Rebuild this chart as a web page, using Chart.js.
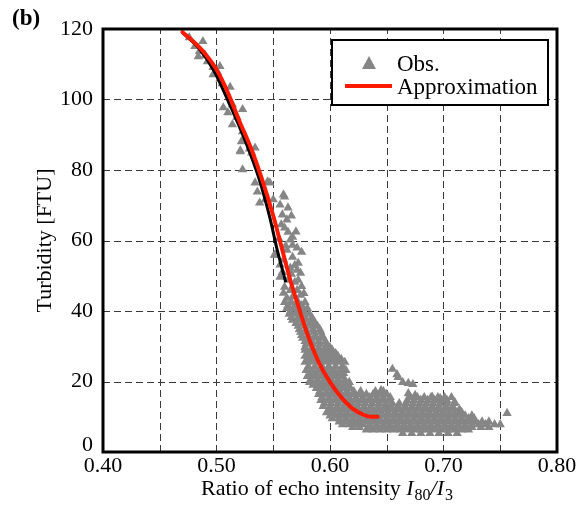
<!DOCTYPE html>
<html>
<head>
<meta charset="utf-8">
<title>Turbidity vs echo intensity ratio</title>
<script src="https://cdn.jsdelivr.net/npm/chart.js@4.4.0/dist/chart.umd.min.js"></script>
<style>
    html, body { margin: 0; padding: 0; background: #fff; }
    #wrap { position: relative; width: 587px; height: 509px; }
</style>
</head>
<body>
<div id="wrap"><canvas id="turbidityChart"></canvas></div>
<script>
const obsPoints = [
    // upper branch
    [0.488,116.5],[0.481,115.1],[0.485,113.7],[0.484,112.2],[0.492,110.8],[0.497,109.1],[0.503,109.4],
    [0.501,107.7],[0.497,107.1],[0.503,105.8],[0.512,103.5],[0.514,98.6],[0.506,97.7],[0.523,97.2],
    [0.510,96.3],[0.514,92.9],[0.523,90.9],[0.525,88.6],[0.522,88.1],[0.534,86.3],[0.521,85.5],[0.531,84.9],
    [0.476,117.6],[0.490,112.5],[0.505,104.5],[0.518,95.0],[0.529,86.0],
    // middle branch
    [0.521,85.2],[0.523,80.1],[0.534,76.4],[0.536,73.8],[0.545,76.7],[0.547,76.4],[0.538,70.7],[0.543,71.6],
    [0.550,71.6],[0.559,73.0],[0.560,72.4],[0.556,70.1],[0.563,69.3],[0.558,67.3],[0.562,65.9],[0.560,63.6],
    [0.563,62.4],[0.567,61.0],[0.565,60.2],[0.567,58.7],[0.571,57.9],[0.552,55.9],[0.562,57.3],[0.559,54.5],
    [0.567,55.3],[0.572,53.6],[0.556,53.1],[0.565,52.2],[0.571,51.6],[0.574,50.8],[0.556,49.6],[0.563,48.8],
    [0.569,48.2],[0.572,48.8],[0.560,46.8],[0.565,45.9],[0.571,45.9],[0.559,45.1],[0.567,44.0],[0.574,44.5],
    [0.562,43.7],[0.575,56.7],[0.551,55.9],
    [0.566,50.5],[0.569,53.0],[0.558,51.0],[0.561,58.5],[0.570,62.5],[0.575,47.0],[0.577,45.0],[0.555,60.5],
    [0.557,64.5],[0.566,67.0],
    // lower band
    [0.560,42.5],[0.566,42.5],[0.572,42.5],[0.578,42.5],
    [0.563,41.6],[0.569,41.6],[0.575,41.6],
    [0.562,40.8],[0.568,40.8],[0.574,40.8],[0.580,40.8],
    [0.565,39.9],[0.571,39.9],[0.577,39.9],
    [0.564,39.1],[0.570,39.1],[0.576,39.1],[0.582,39.1],
    [0.566,38.2],[0.572,38.2],[0.578,38.2],[0.584,38.2],
    [0.567,37.4],[0.573,37.4],[0.579,37.4],[0.585,37.4],
    [0.570,36.5],[0.576,36.5],[0.582,36.5],[0.587,36.5],
    [0.572,35.7],[0.578,35.7],[0.584,35.7],[0.589,35.7],
    [0.573,34.8],[0.579,34.8],[0.585,34.8],[0.591,34.8],
    [0.574,34.0],[0.580,34.0],[0.586,34.0],[0.592,34.0],
    [0.575,33.1],[0.581,33.1],[0.587,33.1],[0.593,33.1],
    [0.576,32.3],[0.582,32.3],[0.588,32.3],[0.594,32.3],
    [0.578,31.4],[0.584,31.4],[0.590,31.4],[0.596,31.4],
    [0.579,30.6],[0.585,30.6],[0.591,30.6],[0.597,30.6],
    [0.578,29.7],[0.584,29.7],[0.590,29.7],[0.596,29.7],[0.600,29.7],
    [0.578,28.9],[0.584,28.9],[0.590,28.9],[0.596,28.9],[0.602,28.9],
    [0.581,28.0],[0.587,28.0],[0.593,28.0],[0.599,28.0],[0.605,28.0],
    [0.578,27.2],[0.584,27.2],[0.590,27.2],[0.596,27.2],[0.602,27.2],[0.607,27.2],
    [0.581,26.3],[0.587,26.3],[0.593,26.3],[0.599,26.3],[0.605,26.3],[0.610,26.3],
    [0.578,25.5],[0.584,25.5],[0.590,25.5],[0.596,25.5],[0.602,25.5],[0.608,25.5],[0.613,25.5],
    [0.581,24.3],[0.587,24.3],[0.593,24.3],[0.599,24.3],[0.605,24.3],[0.611,24.3],
    [0.579,23.2],[0.585,23.2],[0.591,23.2],[0.597,23.2],[0.603,23.2],[0.609,23.2],[0.614,23.2],
    [0.582,22.3],[0.588,22.3],[0.594,22.3],[0.600,22.3],[0.606,22.3],[0.612,22.3],
    [0.580,21.5],[0.586,21.5],[0.592,21.5],[0.598,21.5],[0.604,21.5],[0.610,21.5],
    [0.583,20.6],[0.589,20.6],[0.595,20.6],[0.601,20.6],[0.607,20.6],[0.613,20.6],
    [0.582,19.8],[0.588,19.8],[0.594,19.8],[0.600,19.8],[0.606,19.8],[0.612,19.8],[0.617,19.8],
    [0.585,19.0],[0.591,19.0],[0.597,19.0],[0.603,19.0],[0.609,19.0],[0.615,19.0],
    [0.588,18.1],[0.594,18.1],[0.600,18.1],[0.606,18.1],[0.612,18.1],[0.618,18.1],[0.645,17.5],
    // tail
    [0.591,17.2],[0.597,17.2],[0.603,17.2],[0.609,17.2],[0.615,17.2],[0.621,17.2],[0.627,17.2],[0.640,17.2],
    [0.647,17.2],
    [0.590,16.4],[0.596,16.4],[0.602,16.4],[0.608,16.4],[0.614,16.4],[0.620,16.4],[0.626,16.4],[0.632,16.4],
    [0.638,16.4],[0.644,16.4],[0.650,16.4],[0.669,16.6],[0.675,16.1],[0.690,15.6],[0.697,15.2],[0.703,14.7],
    [0.593,15.5],[0.599,15.5],[0.605,15.5],[0.611,15.5],[0.617,15.5],[0.623,15.5],[0.629,15.5],[0.635,15.5],
    [0.641,15.5],[0.647,15.5],[0.653,15.5],[0.671,15.5],[0.677,15.5],[0.683,15.5],[0.689,15.5],[0.695,15.5],
    [0.701,15.5],[0.707,15.5],
    [0.592,14.7],[0.598,14.7],[0.604,14.7],[0.610,14.7],[0.616,14.7],[0.622,14.7],[0.628,14.7],[0.634,14.7],
    [0.640,14.7],[0.646,14.7],[0.652,14.7],[0.668,14.7],[0.674,14.7],[0.680,14.7],[0.686,14.7],[0.692,14.7],
    [0.698,14.7],[0.710,14.1],
    [0.595,13.8],[0.601,13.8],[0.607,13.8],[0.613,13.8],[0.619,13.8],[0.625,13.8],[0.631,13.8],[0.637,13.8],
    [0.643,13.8],[0.649,13.8],[0.655,13.8],[0.661,13.8],[0.667,13.8],[0.673,13.8],[0.679,13.8],[0.685,13.8],
    [0.691,13.8],[0.697,13.8],[0.703,13.8],[0.709,13.8],
    [0.594,13.0],[0.600,13.0],[0.606,13.0],[0.612,13.0],[0.618,13.0],[0.624,13.0],[0.630,13.0],[0.636,13.0],
    [0.642,13.0],[0.648,13.0],[0.654,13.0],[0.660,13.0],[0.666,13.0],[0.672,13.0],[0.678,13.0],[0.684,13.0],
    [0.690,13.0],[0.696,13.0],[0.702,13.0],[0.708,13.0],
    [0.600,12.1],[0.606,12.1],[0.612,12.1],[0.618,12.1],[0.624,12.1],[0.630,12.1],[0.636,12.1],[0.642,12.1],
    [0.648,12.1],[0.654,12.1],[0.660,12.1],[0.666,12.1],[0.672,12.1],[0.678,12.1],[0.684,12.1],[0.690,12.1],
    [0.696,12.1],[0.702,12.1],[0.708,12.1],[0.714,12.1],
    [0.597,11.2],[0.603,11.2],[0.609,11.2],[0.615,11.2],[0.621,11.2],[0.627,11.2],[0.633,11.2],[0.639,11.2],
    [0.645,11.2],[0.651,11.2],[0.657,11.2],[0.663,11.2],[0.669,11.2],[0.675,11.2],[0.681,11.2],[0.687,11.2],
    [0.693,11.2],[0.699,11.2],[0.705,11.2],[0.711,11.2],[0.716,11.2],
    [0.600,10.3],[0.605,10.3],[0.611,10.3],[0.617,10.3],[0.623,10.3],[0.629,10.3],[0.635,10.3],[0.641,10.3],
    [0.647,10.3],[0.653,10.3],[0.659,10.3],[0.665,10.3],[0.671,10.3],[0.677,10.3],[0.683,10.3],[0.689,10.3],
    [0.695,10.3],[0.701,10.3],[0.707,10.3],[0.713,10.3],[0.719,10.3],[0.725,10.3],
    [0.602,9.5],[0.608,9.5],[0.614,9.5],[0.620,9.5],[0.626,9.5],[0.632,9.5],[0.638,9.5],[0.644,9.5],
    [0.650,9.5],[0.656,9.5],[0.662,9.5],[0.668,9.5],[0.674,9.5],[0.680,9.5],[0.686,9.5],[0.692,9.5],
    [0.698,9.5],[0.704,9.5],[0.710,9.5],[0.716,9.5],[0.722,9.5],[0.727,9.5],
    [0.608,8.6],[0.614,8.6],[0.620,8.6],[0.626,8.6],[0.632,8.6],[0.638,8.6],[0.644,8.6],[0.650,8.6],
    [0.656,8.6],[0.662,8.6],[0.668,8.6],[0.674,8.6],[0.680,8.6],[0.686,8.6],[0.692,8.6],[0.698,8.6],
    [0.704,8.6],[0.710,8.6],[0.716,8.6],[0.722,8.6],[0.728,8.6],[0.734,8.6],[0.740,8.6],
    [0.611,7.8],[0.617,7.8],[0.623,7.8],[0.629,7.8],[0.635,7.8],[0.641,7.8],[0.647,7.8],[0.653,7.8],
    [0.659,7.8],[0.665,7.8],[0.671,7.8],[0.677,7.8],[0.683,7.8],[0.689,7.8],[0.695,7.8],[0.701,7.8],
    [0.707,7.8],[0.713,7.8],[0.719,7.8],[0.725,7.8],[0.731,7.8],[0.737,7.8],[0.745,7.8],[0.750,7.8],
    [0.620,7.0],[0.626,7.0],[0.635,7.0],[0.641,7.0],[0.647,7.0],[0.653,7.0],[0.659,7.0],[0.665,7.0],
    [0.671,7.0],[0.677,7.0],[0.683,7.0],[0.689,7.0],[0.695,7.0],[0.701,7.0],[0.707,7.0],[0.713,7.0],
    [0.719,7.0],[0.725,7.0],[0.733,7.0],[0.740,7.0],
    [0.632,6.3],[0.638,6.3],[0.644,6.3],[0.650,6.3],[0.656,6.3],[0.662,6.3],[0.668,6.3],[0.674,6.3],
    [0.680,6.3],[0.686,6.3],[0.692,6.3],[0.698,6.3],[0.704,6.3],[0.710,6.3],[0.716,6.3],[0.722,6.3],
    [0.664,5.3],[0.672,5.3],[0.680,5.3],[0.688,5.3],[0.696,5.3],[0.704,5.3],[0.712,5.3],
    // stray points
    [0.655,23.5],[0.659,22.0],[0.660,21.2],[0.664,19.8],[0.669,19.5],[0.673,19.2],[0.756,11.0]
];

// Approximation curve (red)
const approxX = [0.470, 0.480, 0.490, 0.500, 0.510, 0.520, 0.530, 0.540, 0.550, 0.557,
                 0.565, 0.572, 0.580, 0.590, 0.600, 0.610, 0.620, 0.630, 0.636, 0.642];
const approxY = [119.1, 116.3, 113.0, 108.5, 102.0, 94.0, 86.5, 77.5, 67.0, 58.5,
                 48.8, 41.5, 33.5, 25.5, 19.8, 15.5, 12.3, 10.5, 10.0, 10.0];

// Black curve partly hidden under the red one
const fitX = [0.470, 0.485, 0.498, 0.511, 0.525, 0.537, 0.547, 0.553, 0.561];
const fitY = [119.0, 114.3, 108.0, 99.0, 88.5, 78.0, 66.5, 58.0, 48.2];

const xLabelValues = [0.40, 0.50, 0.60, 0.70, 0.80];

const serif = "'Liberation Serif', 'Times New Roman', serif";

function toXY(xs, ys) {
    return xs.map((x, i) => ({ x: x, y: ys[i] }));
}

// Dashed grid drawn from the scales' own tick positions
const dashedGridPlugin = {
    id: 'dashedGrid',
    beforeDatasetsDraw(chart) {
        const ctx = chart.ctx;
        const a = chart.chartArea;
        const xs = chart.scales.x, ys = chart.scales.y;
        ctx.save();
        ctx.strokeStyle = '#3a3a3a';
        ctx.lineWidth = 1;
        ctx.setLineDash([7, 4]);
        xs.ticks.forEach(t => {
            if (t.value <= xs.min + 1e-6 || t.value >= xs.max - 1e-6) return;
            const px = Math.round(xs.getPixelForValue(t.value)) + 0.5;
            ctx.beginPath();
            ctx.moveTo(px, a.bottom);
            ctx.lineTo(px, a.top);
            ctx.stroke();
        });
        ys.ticks.forEach(t => {
            if (t.value <= ys.min || t.value >= ys.max) return;
            const py = Math.round(ys.getPixelForValue(t.value)) + 0.5;
            ctx.beginPath();
            ctx.moveTo(a.left, py);
            ctx.lineTo(a.right, py);
            ctx.stroke();
        });
        ctx.restore();
    }
};

// Frame, panel letter, zero label, x title and legend box
const decorPlugin = {
    id: 'decor',
    afterDraw(chart) {
        const ctx = chart.ctx;
        const a = chart.chartArea;
        const ys = chart.scales.y;
        ctx.save();

        // plot frame
        ctx.strokeStyle = '#000';
        ctx.lineWidth = 3;
        ctx.strokeRect(a.left, a.top, a.right - a.left, a.bottom - a.top);

        // panel letter
        ctx.fillStyle = '#000';
        ctx.textBaseline = 'alphabetic';
        ctx.font = 'bold 23px ' + serif;
        ctx.fillText('(b)', 12, 25);

        // the zero label sits a little above the bottom frame
        ctx.font = '22px ' + serif;
        ctx.textAlign = 'right';
        ctx.fillText(String(ys.min), a.left - 10, ys.getPixelForValue(ys.min) - 1);
        ctx.textAlign = 'left';

        // x axis title with italic I and subscripts
        const parts = [
            { t: 'Ratio of echo intensity ', f: '22px ' + serif, dy: 0 },
            { t: 'I', f: 'italic 22px ' + serif, dy: 0 },
            { t: '80', f: '16px ' + serif, dy: 5 },
            { t: '/', f: 'italic 22px ' + serif, dy: 0 },
            { t: 'I', f: 'italic 22px ' + serif, dy: 0 },
            { t: '3', f: '16px ' + serif, dy: 5 }
        ];
        let total = 0;
        parts.forEach(p => { ctx.font = p.f; p.w = ctx.measureText(p.t).width; total += p.w; });
        let x = (a.left + a.right) / 2 - total / 2 - 4;
        parts.forEach(p => {
            ctx.font = p.f;
            ctx.fillText(p.t, x, 495 + p.dy);
            x += p.w + (p.t === 'I' ? 1 : 0);
        });

        // legend
        const lx = 332, ly = 40, lw = 216, lh = 65;
        ctx.fillStyle = '#fff';
        ctx.fillRect(lx, ly, lw, lh);
        ctx.lineWidth = 2;
        ctx.strokeStyle = '#000';
        ctx.strokeRect(lx, ly, lw, lh);

        const obs = chart.data.datasets[0];
        const approx = chart.data.datasets[2];
        ctx.fillStyle = obs.backgroundColor;
        ctx.beginPath();
        ctx.moveTo(369, 56);
        ctx.lineTo(376, 69);
        ctx.lineTo(362, 69);
        ctx.closePath();
        ctx.fill();

        ctx.strokeStyle = approx.borderColor;
        ctx.lineWidth = 4;
        ctx.beginPath();
        ctx.moveTo(345, 86);
        ctx.lineTo(392, 86);
        ctx.stroke();

        ctx.fillStyle = '#000';
        ctx.font = '23px ' + serif;
        ctx.fillText(obs.label, 397, 71);
        ctx.fillText(approx.label, 397, 94);

        ctx.restore();
    }
};

const ctx = document.getElementById('turbidityChart').getContext('2d');
window.turbidityChart = new Chart(ctx, {
    type: 'scatter',
    data: {
        datasets: [{
            label: 'Obs.',
            data: obsPoints.map(p => ({ x: p[0], y: p[1] })),
            pointStyle: 'triangle',
            pointRadius: 5.4,
            pointBorderWidth: 0,
            backgroundColor: '#868686',
            borderColor: '#868686',
            order: 3
        }, {
            label: '',
            data: toXY(fitX, fitY),
            showLine: true,
            borderColor: '#000',
            borderWidth: 3,
            pointRadius: 0,
            cubicInterpolationMode: 'monotone',
            order: 2
        }, {
            label: 'Approximation',
            data: toXY(approxX, approxY),
            showLine: true,
            borderColor: '#ff1a00',
            borderWidth: 4,
            borderCapStyle: 'round',
            pointRadius: 0,
            cubicInterpolationMode: 'monotone',
            order: 1
        }]
    },
    options: {
        responsive: true,
        maintainAspectRatio: false,
        animation: false,
        devicePixelRatio: 1,
        layout: { padding: { left: 28, right: 30, top: 29, bottom: 0 } },
        plugins: {
            legend: { display: false },
            tooltip: { enabled: false }
        },
        scales: {
            x: {
                type: 'linear',
                min: 0.40,
                max: 0.80,
                ticks: {
                    stepSize: 0.05,
                    padding: 1,
                    color: '#000',
                    font: { family: serif, size: 22 },
                    maxRotation: 0,
                    autoSkip: false,
                    callback: function (v) {
                        const hit = xLabelValues.find(t => Math.abs(t - v) < 1e-6);
                        return hit === undefined ? '' : hit.toFixed(2);
                    }
                },
                grid: { display: false, drawTicks: false },
                border: { display: false },
                afterFit: function (scale) { scale.height = 57; }
            },
            y: {
                min: 0,
                max: 120,
                ticks: {
                    stepSize: 20,
                    padding: 10,
                    color: '#000',
                    font: { family: serif, size: 22 },
                    // zero is drawn by the decor plugin, slightly raised
                    callback: v => (v === 0 ? '' : v)
                },
                grid: { display: false, drawTicks: false },
                border: { display: false },
                title: {
                    display: true,
                    text: 'Turbidity [FTU]',
                    color: '#000',
                    font: { family: serif, size: 22 },
                    padding: { top: 4, bottom: 0 }
                },
                afterFit: function (scale) { scale.width = 75; }
            }
        }
    },
    plugins: [dashedGridPlugin, decorPlugin]
});
</script>
</body>
</html>
